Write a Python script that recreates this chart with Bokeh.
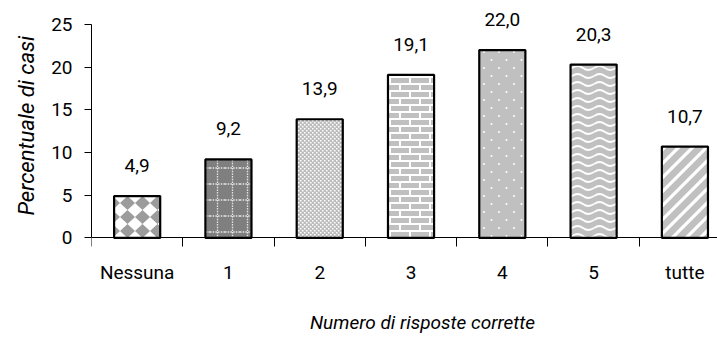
import base64

from bokeh.core.properties import value
from bokeh.embed import file_html
from bokeh.models import (ColumnDataSource, FixedTicker, ImageURLTexture, Label,
                          LabelSet, LinearAxis, Range1d, Title)
from bokeh.plotting import figure
from bokeh.resources import INLINE

# Share of cases by number of correct answers
categories = ["Nessuna", "1", "2", "3", "4", "5", "tutte"]
percentuali = [4.9, 9.2, 13.9, 19.1, 22.0, 20.3, 10.7]
etichette = ["4,9", "9,2", "13,9", "19,1", "22,0", "20,3", "10,7"]
y_ticks = [0, 5, 10, 15, 20, 25]

FONT = "Roboto"
FSIZE = "19px"


def svg_texture(w, h, body):
    svg = (f'<svg xmlns="http://www.w3.org/2000/svg" width="{w}" height="{h}" '
           f'viewBox="0 0 {w} {h}">{body}</svg>')
    url = "data:image/svg+xml;base64," + base64.b64encode(svg.encode()).decode()
    return ImageURLTexture(url=url, repetition="repeat")


# Fill patterns, one per bar
textures = {
    "rombi": svg_texture(15, 14,
        '<rect width="15" height="14" fill="#ffffff"/>'
        '<polygon points="7.5,0 15,7 7.5,14 0,7" fill="#9c9c9c"/>'),
    "griglia": svg_texture(15, 16,
        '<rect width="15" height="16" fill="#7f7f7f"/>'
        '<line x1="7.5" y1="0" x2="7.5" y2="16" stroke="#e6e6e6" stroke-width="1.3" stroke-dasharray="1.5 1.2"/>'
        '<line x1="0" y1="8" x2="15" y2="8" stroke="#e6e6e6" stroke-width="1.3" stroke-dasharray="1.5 1.2"/>'),
    "puntini": svg_texture(4, 4,
        '<rect width="4" height="4" fill="#bdbdbd"/>'
        '<rect x="0" y="0" width="1.5" height="1.5" fill="#ffffff"/>'
        '<rect x="2" y="2" width="1.5" height="1.5" fill="#ffffff"/>'),
    "mattoni": svg_texture(20, 14,
        '<rect width="20" height="14" fill="#ffffff"/>'
        '<rect x="1" y="1" width="18" height="5" fill="#c0c0c0"/>'
        '<rect x="-9" y="8" width="18" height="5" fill="#c0c0c0"/>'
        '<rect x="11" y="8" width="18" height="5" fill="#c0c0c0"/>'),
    "pois": svg_texture(15, 16,
        '<rect width="15" height="16" fill="#c0c0c0"/>'
        '<circle cx="4" cy="4" r="1" fill="#ffffff"/>'
        '<circle cx="11.5" cy="12" r="1" fill="#ffffff"/>'),
    "onde": svg_texture(22, 8,
        '<rect width="22" height="8" fill="#c0c0c0"/>'
        '<path d="M0,4 Q5.5,0 11,4 T22,4" fill="none" stroke="#ffffff" stroke-width="1.8"/>'),
    "diagonali": svg_texture(14, 14,
        '<rect width="14" height="14" fill="#c0c0c0"/>'
        '<path d="M-2,16 L16,-2 M-9,9 L9,-9 M5,23 L23,5" stroke="#ffffff" stroke-width="3.2"/>'),
}
pattern_names = ["rombi", "griglia", "puntini", "mattoni", "pois", "onde", "diagonali"]

centers = [i + 0.5 for i in range(len(categories))]
source = ColumnDataSource(dict(x=centers, top=percentuali, label=etichette,
                               pattern=pattern_names))

# The plot area fills the canvas height: the category axis sits at y = 0 and
# its labels and title live in the space below it, inside the frame.
p = figure(width=717, height=341, output_backend="svg", toolbar_location=None,
           x_range=Range1d(0, 6.857), y_range=Range1d(-12.12, 27.8),
           x_axis_type=None, y_axis_type=None,
           min_border_left=91, min_border_right=0, min_border_top=0,
           min_border_bottom=0)
p.outline_line_color = None
p.xgrid.visible = False
p.ygrid.visible = False
p.background_fill_color = "white"

p.vbar(x="x", top="top", bottom=0, width=0.505, source=source,
       fill_color="#c0c0c0", line_color="black", line_width=2.2,
       hatch_pattern="pattern", hatch_extra=textures)

labels = LabelSet(x="x", y="top", text="label", source=source,
                  text_align="center", text_baseline="alphabetic",
                  y_offset=24, text_font=value(FONT), text_font_size=value(FSIZE),
                  text_color="black", level="overlay")
p.add_layout(labels)

# x axis: names centred under the bars, tick marks between categories
xaxis = LinearAxis(
    ticker=FixedTicker(ticks=centers, minor_ticks=list(range(len(categories) + 1))),
    major_label_overrides={c: n for c, n in zip(centers, categories)},
    fixed_location=0,
)
xaxis.major_tick_out = 0
xaxis.major_tick_in = 0
xaxis.minor_tick_out = 9
xaxis.minor_tick_in = 0
xaxis.minor_tick_line_color = "black"
xaxis.axis_line_color = "black"
xaxis.major_label_standoff = 14
xaxis.major_label_text_font = FONT
xaxis.major_label_text_font_size = FSIZE
xaxis.major_label_text_color = "black"
p.add_layout(xaxis, "below")

yaxis = LinearAxis(ticker=FixedTicker(ticks=y_ticks, minor_ticks=[]),
                   bounds=(y_ticks[0], y_ticks[-1]))
yaxis.major_tick_out = 7
yaxis.major_tick_in = 0
yaxis.major_tick_line_color = "black"
yaxis.axis_line_color = "black"
yaxis.major_label_standoff = 12
yaxis.major_label_text_font = FONT
yaxis.major_label_text_font_size = FSIZE
yaxis.major_label_text_color = "black"
p.add_layout(yaxis, "left")

xtitle = Label(text="Numero di risposte corrette", x=331, y=19,
               x_units="screen", y_units="screen",
               text_align="center", text_baseline="middle",
               text_font=FONT, text_font_size=FSIZE,
               text_font_style="italic", text_color="black")
p.add_layout(xtitle)

ytitle = Title(text="Percentuale di casi", align="left", offset=126,
               standoff=20, text_font=FONT, text_font_size="22px",
               text_font_style="italic", text_color="black")
p.add_layout(ytitle, "left")

open("out.html", "w").write(file_html(p, INLINE))
